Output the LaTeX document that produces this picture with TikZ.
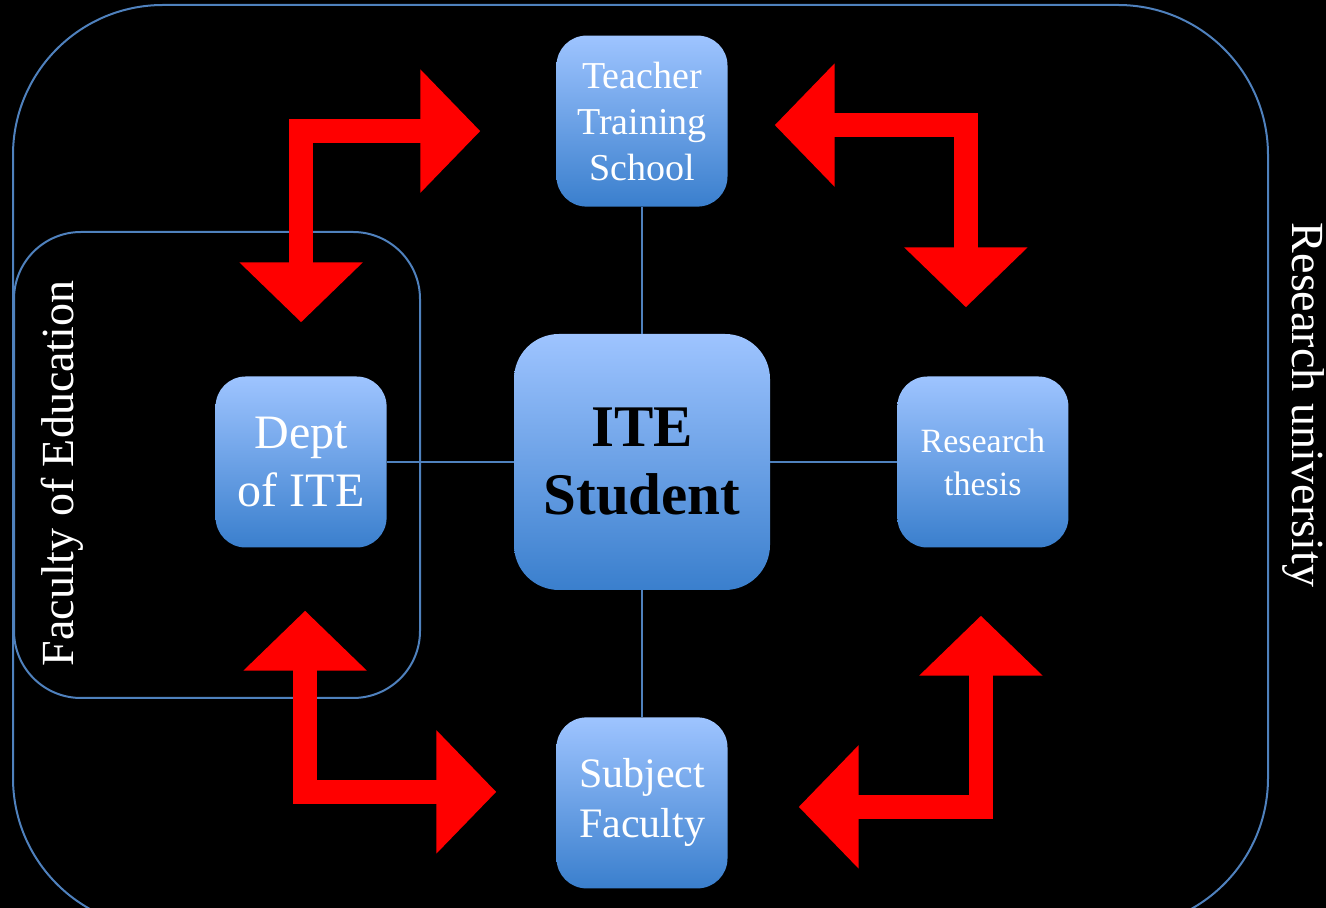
\documentclass[tikz,border=0pt]{standalone}
\usepackage{fontspec}
\setmainfont{Liberation Serif}
\usetikzlibrary{calc,positioning,arrows.meta}
\definecolor{boxtop}{RGB}{158,196,255}
\definecolor{boxbot}{RGB}{58,127,205}
\definecolor{frameblue}{RGB}{79,129,189}
\tikzset{
  unit/.style={rounded corners=30pt, minimum size=171pt, inner sep=0pt,
    top color=boxtop, bottom color=boxbot, text=white, align=center},
  link/.style={draw=frameblue, line width=1.5pt},
  frame/.style={draw=frameblue, line width=2pt},
  bend arrow/.style={draw=red, line width=24pt, line join=miter, <->,
    >={Triangle[width=120pt,length=60pt]}},
}

\begin{document}
\begin{tikzpicture}[x=1pt,y=1pt]
\useasboundingbox (0,0) rectangle (1326,908);
\fill[black] (0,0) rectangle (1326,908);
\clip (0,0) rectangle (1326,908);
% frames
\draw[frame, rounded corners=150pt] (13,903) rectangle (1268,-20);
\draw[frame, rounded corners=67pt] (14,676) rectangle (420,210);
\node[rotate=90, anchor=base, text=white, font=\fontsize{46}{54}\selectfont] (fac) at (73,434.5) {Faculty of Education};
\node[rotate=-90, anchor=base, text=white, font=\fontsize{46}{54}\selectfont] (uni) at (1292,503) {Research university};
% boxes
\node[unit, minimum size=256pt, rounded corners=45pt, text=black,
  font=\bfseries\fontsize{59}{68}\selectfont] (student) at (642,446) {ITE\\Student};
\node[unit, above=127pt of student, font=\fontsize{38}{46}\selectfont] (teacher) {Teacher\\Training\\School};
\node[unit, below=127pt of student, font=\fontsize{42}{50}\selectfont] (subject) {Subject\\Faculty};
\node[unit, left=127pt of student, font=\fontsize{48}{58}\selectfont] (dept) {Dept\\of ITE};
\node[unit, right=127pt of student, font=\fontsize{34}{43}\selectfont] (thesis) {Research\\thesis};
\foreach \n in {teacher,subject,dept,thesis}
  \draw[link] (student) -- (\n);
% red arrows
\draw[bend arrow] ($(dept.north)+(0,54)$) |- ($(teacher.west)+(-76,-10)$);
\draw[bend arrow] ($(teacher.east)+(47,-4)$) -| ($(thesis.north)+(-17,69)$);
\draw[bend arrow] ($(dept.south)+(4,-63)$) |- ($(subject.west)+(-60,11)$);
\draw[bend arrow] ($(thesis.south)+(-2,-68)$) |- ($(subject.east)+(71,-4)$);
\end{tikzpicture}
\end{document}
